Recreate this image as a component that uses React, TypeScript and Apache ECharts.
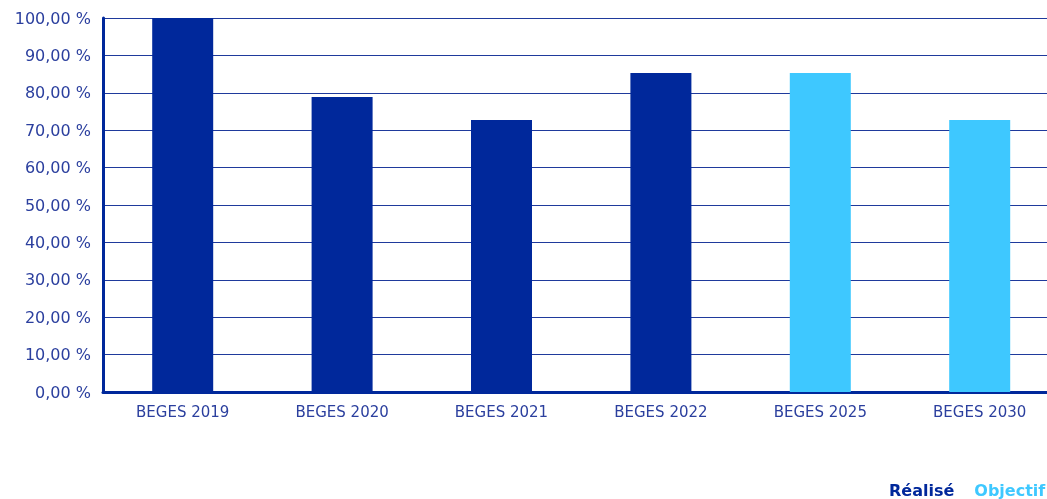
import React, { useEffect, useRef } from "react";
import * as echarts from "echarts";

const categories = ["BEGES 2019", "BEGES 2020", "BEGES 2021", "BEGES 2022", "BEGES 2025", "BEGES 2030"];
const realise = [100, 78.9, 72.7, 85.3, null, null];
const objectif = [null, null, null, null, 85.3, 72.7];
const seriesNames = ["Réalisé", "Objectif"];

const DARK = "#00289b";
const LIGHT = "#3ec8ff";
const TEXT = "#2b3f9e";
const FONT = "DejaVu Sans";

export default function App() {
  const ref = useRef<HTMLDivElement>(null);
  useEffect(() => {
    if (!ref.current) return;
    const chart = echarts.init(ref.current, undefined, { renderer: "svg" });
    chart.setOption({
      animation: false,
      grid: { left: 103, top: 18, bottom: 107, width: 956.4 },
      legend: {
        data: [
          { name: seriesNames[0], textStyle: { color: DARK } },
          { name: seriesNames[1], textStyle: { color: LIGHT } },
        ],
        icon: "none",
        itemWidth: 0,
        itemHeight: 0,
        itemGap: 15,
        left: 879,
        top: 477,
        textStyle: { fontFamily: FONT, fontWeight: "bold", fontSize: 16 },
      },
      xAxis: {
        type: "category",
        data: categories,
        axisLine: { lineStyle: { color: DARK, width: 3 } },
        axisTick: { show: false },
        axisLabel: { color: TEXT, fontFamily: FONT, fontSize: 15, margin: 12 },
      },
      yAxis: {
        type: "value",
        min: 0,
        max: 100,
        interval: 10,
        axisLine: { show: true, lineStyle: { color: DARK, width: 3 } },
        axisTick: { show: false },
        splitLine: { lineStyle: { color: "#1f3a9c", width: 1 } },
        axisLabel: {
          color: TEXT,
          fontFamily: FONT,
          fontSize: 16,
          margin: 12,
          formatter: (v: number) => v.toFixed(2).replace(".", ",") + " %",
        },
      },
      series: [
        { name: seriesNames[0], type: "bar", stack: "s", data: realise, barWidth: 61, itemStyle: { color: DARK } },
        { name: seriesNames[1], type: "bar", stack: "s", data: objectif, barWidth: 61, itemStyle: { color: LIGHT } },
      ],
    });
    return () => chart.dispose();
  }, []);
  return (
    <div style={{ position: "fixed", left: 0, top: 0, width: "100vw", height: "100vh", overflow: "hidden" }}>
      <div ref={ref} style={{ width: 1090, height: 499 }} />
    </div>
  );
}
